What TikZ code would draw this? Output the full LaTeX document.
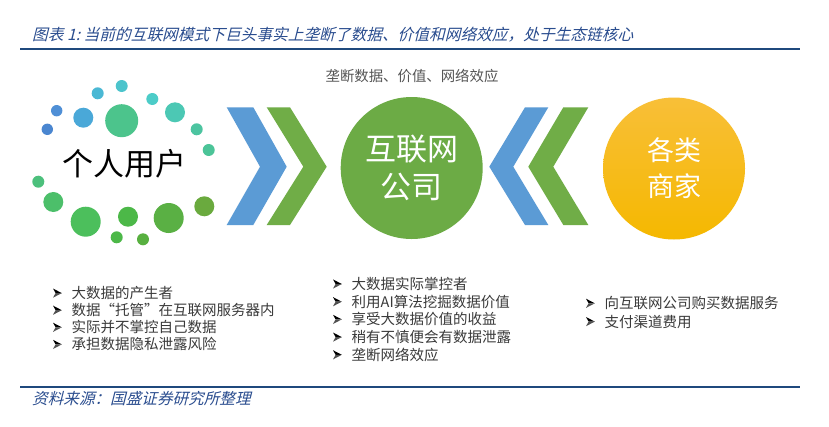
\documentclass[tikz,border=0pt]{standalone}
\usepackage{fontspec}
\setmainfont{Noto Sans CJK SC}
\newfontfamily\cjk{Noto Sans CJK SC}
\newfontfamily\cjkit{Noto Sans CJK SC}[FakeSlant=0.25]
\definecolor{titleblue}{HTML}{2A4D8F}
\definecolor{rulebl}{HTML}{1F497D}
\definecolor{chevblue}{HTML}{5B9BD5}
\definecolor{chevgreen}{HTML}{70AD47}
\definecolor{circgreen}{HTML}{6CAB45}
\definecolor{ytop}{HTML}{F8BF38}
\definecolor{ybot}{HTML}{F5B800}
\definecolor{txtgray}{HTML}{3A3A3A}
\definecolor{subgray}{HTML}{555555}
\definecolor{arrlow}{HTML}{505050}
\tikzset{
  bullet/.style={anchor=west, inner sep=0pt, text=txtgray, font=\cjk\fontsize{14.5}{16}\selectfont},
  bigcirc/.style={circle, minimum size=142pt, inner sep=0pt, text=white, align=center},
  rulerline/.style={draw=rulebl, line width=2.6pt},
  barrow/.pic={
    \fill[black] (0,-4.6) -- (8.8,0) -- (2.6,0) -- cycle;
    \fill[arrlow] (0,4.6) -- (8.8,0) -- (2.6,0) -- cycle;
  },
}
\begin{document}
\begin{tikzpicture}[x=1pt,y=-1pt]
\useasboundingbox (0,0) rectangle (829,426);
\fill[white] (0,0) rectangle (829,426);
% title
\node[anchor=west, inner sep=0pt, text=titleblue, font=\cjkit\fontsize{15.7}{17}\selectfont] (title) at (32,35) {图表 1:\ 当前的互联网模式下巨头事实上垄断了数据、价值和网络效应，处于生态链核心};
\draw[rulerline] (20,49) -- (800,49);
% source
\draw[rulerline] (20,387) -- (800,387);
\node[anchor=west, inner sep=0pt, text=titleblue, font=\cjkit\fontsize{15.6}{17}\selectfont] (src) at (32,399) {资料来源：国盛证券研究所整理};
% subtitle
\node[inner sep=0pt, text=subgray, font=\cjk\fontsize{14.4}{16}\selectfont] (sub) at (412,76) {垄断数据、价值、网络效应};
% dots
\foreach \x/\y/\r/\c in {
  121.7/86/6/4CC4CC, 97.7/93.3/6/4AB8D4, 152.3/99/6/4CCCC8,
  56.7/110.7/5.7/4F8FD6, 83.3/117.7/10/4AA8D8, 121.7/120.7/16.5/4CC48C,
  175/112.3/10/4CC8B4, 47.3/129.3/5.7/4A86D0, 196.7/129.3/6/4CC4A0,
  208.7/150/6/4CC498, 38.3/181.7/6/4CC07C, 53.3/202/10/4CBF6A,
  85.7/221.7/15/4CBF5C, 128/216.7/10/4CB848, 168.7/218/15/5AB044,
  204.3/206.3/10/6AAA3E, 116.7/237.3/6/4CB848, 143/239.3/6/58B040}
  {\definecolor{dotc}{HTML}{\c}\fill[dotc] (\x,\y) circle[radius=\r];}
\node[inner sep=0pt, text=black, font=\cjk\fontsize{31}{34}\selectfont] (user) at (124,164) {个人用户};
% right chevrons
\fill[chevblue] (226.7,107.3) -- (253.3,107.3) -- (286.7,166.7) -- (253.3,225) -- (226.7,225) -- (260,166.7) -- cycle;
\fill[chevgreen] (266.7,107.3) -- (290,107.3) -- (326.7,166.7) -- (290,225) -- (266.7,225) -- (303.3,166.7) -- cycle;
% left chevrons
\fill[chevblue] (548.3,107.3) -- (525,107.3) -- (489.3,166.7) -- (525,225) -- (548.3,225) -- (513.3,166.7) -- cycle;
\fill[chevgreen] (588.3,107.3) -- (563.3,107.3) -- (528.3,166.7) -- (563.3,225) -- (588.3,225) -- (553.3,166.7) -- cycle;
% circles
\node[bigcirc, fill=circgreen, font=\cjk\fontsize{31}{38}\selectfont] (net) at (411.7,168) {互联网\\公司};
\node[bigcirc, top color=ytop, bottom color=ybot, font=\cjk\fontsize{27}{36}\selectfont] (shop) at (674,168.5) {各类\\商家};
% lists
\foreach \t [count=\i] in {大数据的产生者, 数据“托管”在互联网服务器内, 实际并不掌控自己数据, 承担数据隐私泄露风险}
  {\node[bullet] (l\i) at (71.5,276+17.1*\i) {\t};
   \pic at (53,276+17.1*\i) {barrow};}
\foreach \t [count=\i] in {大数据实际掌控者, 利用AI算法挖掘数据价值, 享受大数据价值的收益, 稍有不慎便会有数据泄露, 垄断网络效应}
  {\node[bullet] (m\i) at (351.5,266.3+17.7*\i) {\t};
   \pic at (333,266.3+17.7*\i) {barrow};}
\foreach \t [count=\i] in {向互联网公司购买数据服务, 支付渠道费用}
  {\node[bullet] (r\i) at (604.5,285+18.3*\i) {\t};
   \pic at (586,285+18.3*\i) {barrow};}
\end{tikzpicture}
\end{document}
